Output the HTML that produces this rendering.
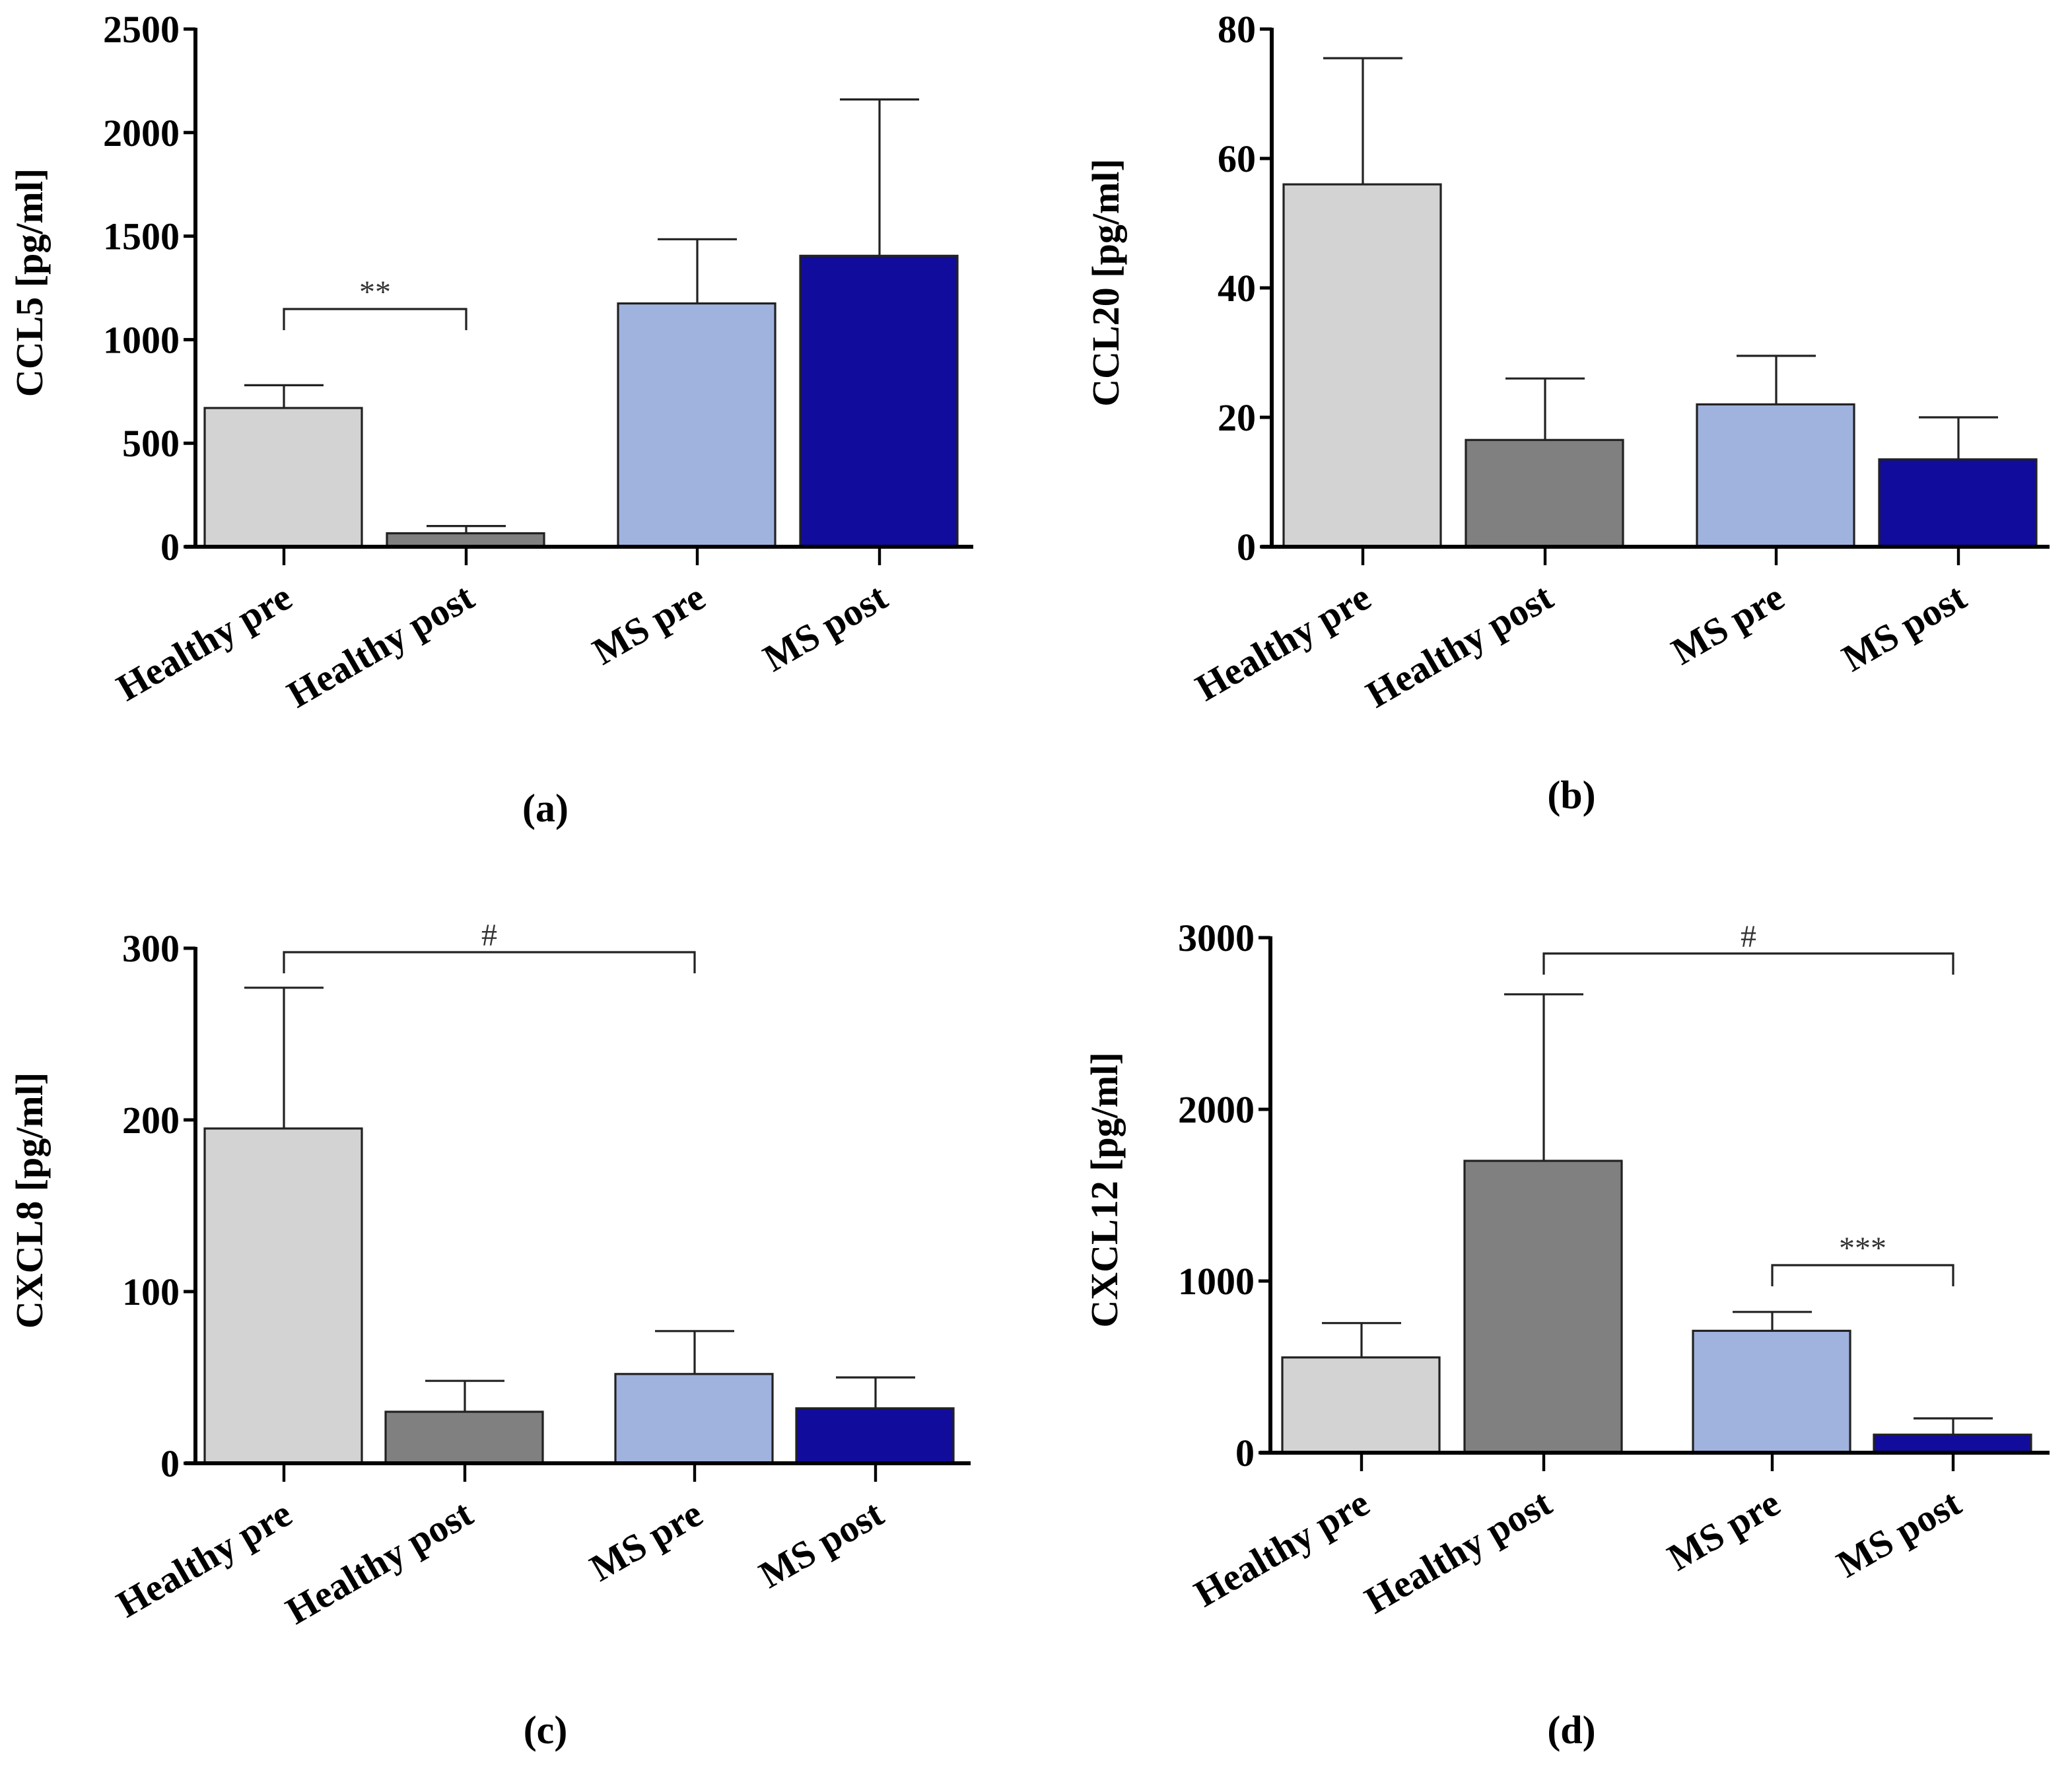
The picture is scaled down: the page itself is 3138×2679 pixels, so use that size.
<!DOCTYPE html>
<html><head><meta charset="utf-8"><style>
html,body{margin:0;padding:0;background:#fff;}
svg{display:block;font-family:"Liberation Serif",serif;font-weight:bold;}
</style></head><body>
<svg id="fig" width="3138" height="2679" viewBox="0 0 1569 1339.5" xmlns="http://www.w3.org/2000/svg"></svg>
<script>
const categories = ["Healthy pre","Healthy post","MS pre","MS post"];
const colors = ["#d3d3d3","#808080","#a0b3df","#120c9c"];
const valuesA = [670, 65, 1175, 1405];
const errorsA = [780, 100, 1485, 2160];
const ticksA = [0,500,1000,1500,2000,2500];
const valuesB = [56, 16.5, 22, 13.5];
const errorsB = [75.5, 26, 29.5, 20];
const ticksB = [0,20,40,60,80];
const valuesC = [195, 30, 52, 32];
const errorsC = [277, 48, 77, 50];
const ticksC = [0,100,200,300];
const valuesD = [555, 1700, 710, 105];
const errorsD = [755, 2670, 820, 200];
const ticksD = [0,1000,2000,3000];

const NS = "http://www.w3.org/2000/svg";
const svg = document.getElementById('fig');
function el(tag, attrs, parent, text){
  const e = document.createElementNS(NS, tag);
  for (const k in attrs) e.setAttribute(k, attrs[k]);
  if (text !== undefined) e.textContent = text;
  (parent||svg).appendChild(e);
  return e;
}
function panel(p){
  const g = el('g', {});
  
  
  const max = p.ticks[p.ticks.length-1];
  const yS = v => p.y0 - (v/max)*(p.y0 - p.yTop);
  p.values.forEach((v,i)=>{
    const x = p.bars[i];
    const cx = x + 60;
    const eb = el('line',{x1:cx,x2:cx,y1:yS(v),y2:yS(p.errors[i]),stroke:'#222','stroke-width':1.6},g);
    
    
    const cap = el('line',{x1:cx-30,x2:cx+30,y1:yS(p.errors[i]),y2:yS(p.errors[i]),stroke:'#222','stroke-width':1.6},g);
    
    
    const r = el('rect',{x:x,y:yS(v),width:119,height:p.y0-yS(v),fill:colors[i],stroke:'#222','stroke-width':1.6},g);
    
    
    const t = el('line',{x1:cx,x2:cx,y1:p.y0,y2:p.y0+14,stroke:'#000','stroke-width':2.2},g);
    
    
    const lx = cx+8, ly = p.y0+44;
    const lab = el('text',{x:lx,y:ly,'text-anchor':'end','font-size':29,transform:`rotate(-30 ${lx} ${ly})`},g,categories[i]);
    
    
  });
  const ya = el('line',{x1:p.ax,x2:p.ax,y1:p.yTop-1,y2:p.y0+1.5,stroke:'#000','stroke-width':3},g);
  
  
  const xa = el('line',{x1:p.ax-8,x2:p.xEnd,y1:p.y0,y2:p.y0,stroke:'#000','stroke-width':3},g);
  
  
  p.ticks.forEach(tv=>{
    const y = yS(tv);
    el('line',{x1:p.ax-9,x2:p.ax,y1:y,y2:y,stroke:'#000','stroke-width':2.5},g);
    const tl = el('text',{x:p.ax-12,y:y+10,'text-anchor':'end','font-size':29,textLength:String(tv).length*14.5,lengthAdjust:'spacingAndGlyphs'},g,String(tv));
    
    
  });
  const tx = p.ax-116, ty = (p.yTop+p.y0)/2 - 4;
  const yt = el('text',{x:tx,y:ty,'text-anchor':'middle','font-size':29,transform:`rotate(-90 ${tx} ${ty})`},g,p.title);
  
  
  const pl = el('text',{x:p.lx,y:p.y0+p.capDy,'text-anchor':'middle','font-size':30},g,'('+p.letter+')');
  
  
  (p.brackets||[]).forEach(b=>{
    const x1 = p.bars[b.i]+60, x2 = p.bars[b.j]+60;
    const br = el('path',{d:`M${x1} ${b.y+16}V${b.y}H${x2}V${b.y+16}`,fill:'none',stroke:'#222','stroke-width':1.6},g);
    
    
    const st = el('text',{x:(x1+x2)/2,y:b.y-5,'text-anchor':'middle','font-size':24,'font-weight':'normal',fill:'#333'},g,b.label);
    
    
  });
}
panel({letter:'a',title:'CCL5 [pg/ml]',ax:148,y0:414,yTop:22,xEnd:737,bars:[155,293,468,606],values:valuesA,errors:errorsA,ticks:ticksA,capDy:208,lx:413,
  brackets:[{i:0,j:1,y:234,label:'**'}]});
panel({letter:'b',title:'CCL20 [pg/ml]',ax:963,y0:414,yTop:22,xEnd:1552,bars:[972,1110,1285,1423],values:valuesB,errors:errorsB,ticks:ticksB,capDy:198,lx:1190});
panel({letter:'c',title:'CXCL8 [pg/ml]',ax:148,y0:1108,yTop:718,xEnd:735,bars:[155,292,466,603],values:valuesC,errors:errorsC,ticks:ticksC,capDy:212,lx:413,
  brackets:[{i:0,j:2,y:721,label:'#'}]});
panel({letter:'d',title:'CXCL12 [pg/ml]',ax:962,y0:1100,yTop:710,xEnd:1552,bars:[971,1109,1282,1419],values:valuesD,errors:errorsD,ticks:ticksD,capDy:220,lx:1190,
  brackets:[{i:1,j:3,y:722,label:'#'},{i:2,j:3,y:958,label:'***'}]});
</script>
</body></html>
